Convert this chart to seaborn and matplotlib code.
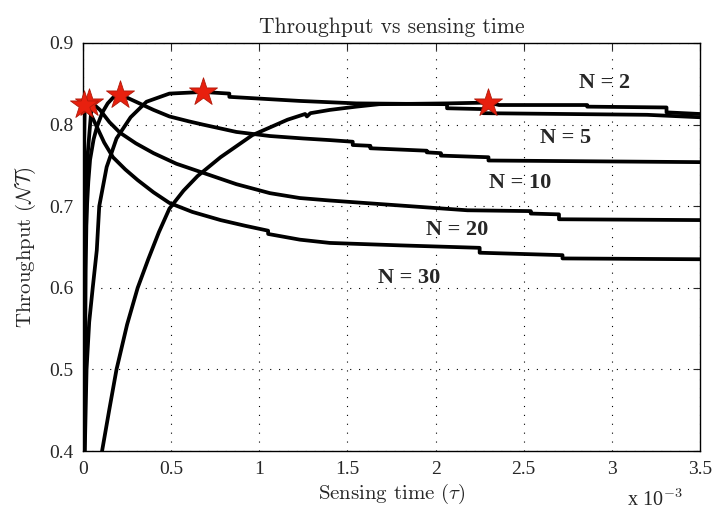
import numpy as np
import pandas as pd
import matplotlib
matplotlib.use("Agg")
import matplotlib.pyplot as plt
import seaborn as sns

# sensing time in units of 10^-3 s, throughput
n_values = [2, 5, 10, 20, 30]

tau_n2 = [0.108, 0.15, 0.19, 0.25, 0.31, 0.37, 0.43, 0.49, 0.57, 0.65, 0.78, 0.96,
          1.16, 1.26, 1.27, 1.29, 1.40, 1.55, 1.68, 2.07, 2.30, 2.36, 2.86, 2.86,
          3.31, 3.31, 3.50]
thr_n2 = [0.400, 0.452, 0.500, 0.555, 0.600, 0.635, 0.668, 0.697, 0.719, 0.737, 0.760, 0.787,
          0.806, 0.813, 0.810, 0.814, 0.818, 0.822, 0.825, 0.826, 0.827, 0.824, 0.824, 0.822,
          0.821, 0.815, 0.813]

tau_n5 = [0.010, 0.020, 0.035, 0.055, 0.078, 0.092, 0.134, 0.19, 0.27, 0.36, 0.49, 0.68,
          0.83, 0.83, 1.23, 1.55, 2.065, 2.065, 2.27, 2.27, 3.20, 3.50]
thr_n5 = [0.400, 0.500, 0.558, 0.600, 0.646, 0.700, 0.748, 0.783, 0.809, 0.828, 0.838, 0.840,
          0.838, 0.834, 0.829, 0.826, 0.825, 0.820, 0.819, 0.814, 0.812, 0.809]

tau_n10 = [0.002, 0.005, 0.010, 0.020, 0.030, 0.040, 0.060, 0.080, 0.11, 0.14, 0.17, 0.21,
           0.25, 0.30, 0.40, 0.49, 0.60, 0.68, 0.87, 1.06, 1.25, 1.40,
           1.53, 1.53, 1.63, 1.63, 1.95, 1.95, 2.03, 2.03, 2.30, 2.30, 3.50]
thr_n10 = [0.552, 0.590, 0.634, 0.690, 0.730, 0.757, 0.782, 0.798, 0.815, 0.826, 0.833, 0.836,
           0.833, 0.828, 0.818, 0.810, 0.804, 0.800, 0.791, 0.786, 0.783, 0.781,
           0.779, 0.775, 0.774, 0.771, 0.768, 0.766, 0.765, 0.762, 0.760, 0.756, 0.754]

tau_n20 = [0.008, 0.015, 0.025, 0.050, 0.070, 0.096, 0.15, 0.21, 0.30, 0.40, 0.53, 0.68,
           0.87, 1.06, 1.23, 1.40, 2.18, 2.54, 2.54, 2.70, 2.70, 3.50]
thr_n20 = [0.400, 0.620, 0.760, 0.826, 0.823, 0.818, 0.803, 0.790, 0.777, 0.765, 0.752, 0.741,
           0.727, 0.716, 0.710, 0.707, 0.695, 0.694, 0.691, 0.690, 0.684, 0.683]

tau_n30 = [0.002, 0.004, 0.007, 0.010, 0.023, 0.050, 0.079, 0.12, 0.17, 0.24, 0.31, 0.40,
           0.49, 0.62, 0.78, 0.92, 1.05, 1.05, 1.23, 1.40, 1.80, 2.25, 2.25, 2.72, 2.72, 3.50]
thr_n30 = [0.400, 0.620, 0.780, 0.824, 0.820, 0.810, 0.797, 0.778, 0.760, 0.745, 0.732, 0.717,
           0.704, 0.693, 0.683, 0.676, 0.670, 0.666, 0.659, 0.655, 0.652, 0.649, 0.643, 0.640,
           0.636, 0.635]

# optimum sensing time for each N (red stars)
star_tau = [2.30, 0.68, 0.21, 0.034, 0.008]
star_thr = [0.827, 0.840, 0.836, 0.826, 0.824]

# curve labels
label_text = ["N = 2", "N = 5", "N = 10", "N = 20", "N = 30"]
label_tau = [2.96, 2.74, 2.48, 2.12, 1.85]
label_thr = [0.851, 0.784, 0.728, 0.671, 0.612]

x_ticks = [0, 0.5, 1, 1.5, 2, 2.5, 3, 3.5]
x_tick_labels = ["0", "0.5", "1", "1.5", "2", "2.5", "3", "3.5"]
y_ticks = [0.4, 0.5, 0.6, 0.7, 0.8, 0.9]
y_tick_labels = ["0.4", "0.5", "0.6", "0.7", "0.8", "0.9"]

# ==============================
# Long table for seaborn
# ==============================

curves = [(tau_n2, thr_n2), (tau_n5, thr_n5), (tau_n10, thr_n10),
          (tau_n20, thr_n20), (tau_n30, thr_n30)]

frames = []
for n, (t, v) in zip(n_values, curves):
    frames.append(pd.DataFrame({"tau": t, "throughput": v, "N": n}))
df = pd.concat(frames, ignore_index=True)

stars = pd.DataFrame({"tau": star_tau, "throughput": star_thr})

# ==============================
# Plot
# ==============================

sns.set_style("white")
plt.rcParams["mathtext.fontset"] = "cm"
plt.rcParams["axes.formatter.use_mathtext"] = True

fig = plt.figure(figsize=(7.17, 5.18), dpi=100)
ax = fig.add_axes([0.1158, 0.1293, 0.8605, 0.7877])

sns.lineplot(
    data=df,
    x="tau",
    y="throughput",
    hue="N",
    units="N",
    palette=["black"] * 5,
    estimator=None,
    sort=False,
    legend=False,
    linewidth=2.7,
    ax=ax
)

sns.scatterplot(
    data=stars,
    x="tau",
    y="throughput",
    marker="*",
    s=450,
    color="#e8200e",
    edgecolor="#b01a0a",
    linewidth=0.6,
    zorder=5,
    clip_on=False,
    ax=ax
)

for txt, tx, ty in zip(label_text, label_tau, label_thr):
    ax.text(tx, ty, txt, fontsize=16, fontweight="bold",
            family="Liberation Serif", ha="center", va="center")

ax.set_xlim(0, 3.5)
ax.set_ylim(0.4, 0.9)
ax.set_xticks(x_ticks)
ax.set_xticklabels(x_tick_labels, family="Liberation Serif", fontsize=14)
ax.set_yticks(y_ticks)
ax.set_yticklabels(y_tick_labels, family="Liberation Serif", fontsize=14)

ax.tick_params(direction="in", top=True, right=True, length=5, width=0.8, pad=7)
ax.grid(True, linestyle=(0, (1, 7)), color="black", linewidth=0.8)

for sp in ax.spines.values():
    sp.set_color("black")
    sp.set_linewidth(1.0)

ax.set_title("Throughput vs sensing time", family="cmr10", fontsize=15.5, pad=7)
ax.set_xlabel(r"Sensing time ($\tau$)", family="cmr10", fontsize=15, labelpad=3)
ax.set_ylabel(r"Throughput ($\mathcal{NT}$)", family="cmr10", fontsize=15, labelpad=8)

fig.text(0.913, 0.035, r"x 10$^{-3}$", family="Liberation Serif", fontsize=14.5,
         ha="center", va="center")

fig.savefig("out.png", dpi=100)
